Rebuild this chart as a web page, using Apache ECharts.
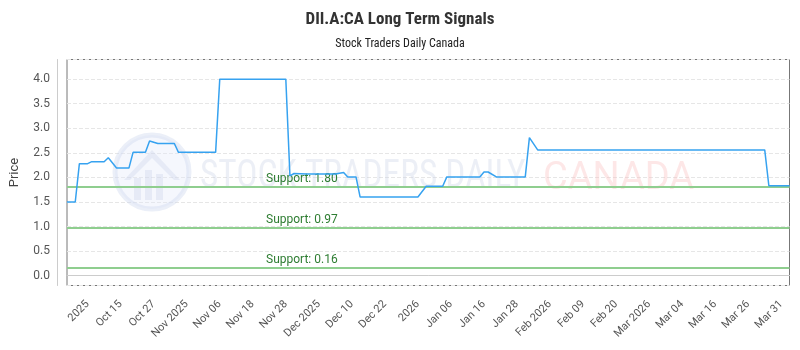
<!DOCTYPE html>
<html><head><meta charset="utf-8">
<script src="https://cdn.jsdelivr.net/npm/echarts@6/dist/echarts.min.js"></script>
<style>html,body{margin:0;padding:0;background:#fff}#c{width:800px;height:350px}</style>
</head><body><div id="c"></div>
<script>
// ---- data ----
const tickLabels = ['2025','Oct 15','Oct 27','Nov 2025','Nov 06','Nov 18','Nov 28','Dec 2025','Dec 10','Dec 22','2026','Jan 06','Jan 16','Jan 28','Feb 2026','Feb 09','Feb 20','Mar 2026','Mar 04','Mar 16','Mar 26','Mar 31'];
const firstLabelIndex = 5;
const labelStep = 8;
const pointCount = 176;
// breakpoints of the signal line: category index and price
const pointIndex = [0,2,3,5,6,9,10,12,15,16,19,20,22,26,27,36,37,53,54,55,58,65,67,68,70,71,85,87,91,92,100,101,102,104,111,112,114,169,170,175];
const pointValue = [1.5,1.5,2.28,2.28,2.32,2.32,2.40,2.19,2.19,2.51,2.51,2.74,2.69,2.69,2.51,2.51,4.0,4.0,2.03,2.08,2.07,2.07,2.10,2.01,2.01,1.6,1.6,1.82,1.82,2.01,2.01,2.11,2.11,2.01,2.01,2.81,2.56,2.56,1.83,1.83];
const supportLevels = [1.80, 0.97, 0.16];

// ---- build ----
const categories = [];
for (let i = 0; i < pointCount; i++) categories.push('p' + i);
const isLabel = i => i >= firstLabelIndex && (i - firstLabelIndex) % labelStep === 0;
const seriesData = pointIndex.map((d, k) => [d, pointValue[k]]);

const chart = echarts.init(document.getElementById('c'), null, {renderer: 'canvas'});
const FONT = 'Roboto, "Noto Sans", sans-serif';
const NARROW = '"Liberation Sans Narrow", "Roboto Condensed", Roboto, sans-serif';
chart.setOption({
  animation: false,
  backgroundColor: '#fff',
  title: [
    {text: 'DII.A:CA Long Term Signals', left: 'center', top: 6,
     textStyle: {fontSize: 17, fontWeight: 'bold', color: '#333', fontFamily: NARROW}},
    {text: 'Stock Traders Daily Canada', left: 'center', top: 33,
     textStyle: {fontSize: 12, fontWeight: 'normal', color: '#222', fontFamily: NARROW}}
  ],
  graphic: [
    {type: 'circle', shape: {cx: 152, cy: 172, r: 37}, style: {fill: 'rgba(225,232,248,0.35)', stroke: 'rgba(205,214,238,0.4)', lineWidth: 5}, z: 1, silent: true},
    {type: 'polygon', shape: {points: [[124,180],[152,150],[180,180],[174,180],[152,158],[130,180]]}, style: {fill: 'rgba(195,205,232,0.3)'}, z: 1, silent: true},
    {type: 'rect', shape: {x: 134, y: 178, width: 7, height: 22}, style: {fill: 'rgba(195,205,232,0.3)'}, z: 1, silent: true},
    {type: 'rect', shape: {x: 145, y: 170, width: 7, height: 30}, style: {fill: 'rgba(195,205,232,0.3)'}, z: 1, silent: true},
    {type: 'rect', shape: {x: 156, y: 174, width: 7, height: 26}, style: {fill: 'rgba(195,205,232,0.3)'}, z: 1, silent: true},
    {type: 'text', left: 200, top: 158, z: 1, silent: true, scaleX: 0.93,
     style: {text: 'STOCK TRADERS DAILY', font: '38px ' + NARROW, fill: 'rgba(200,208,228,0.35)'}},
    {type: 'text', left: 543, top: 160, z: 1, silent: true,
     style: {text: 'CANADA', font: '38px Roboto, sans-serif', fill: 'rgba(250,185,185,0.35)'}}
  ],
  grid: {left: 63, right: 10.5, top: 59.5, bottom: 64.5, show: true, borderColor: '#777', borderWidth: 1, backgroundColor: 'transparent'},
  xAxis: {
    type: 'category', data: categories, boundaryGap: false, offset: 10,
    axisLine: {show: true, lineStyle: {color: '#ccc'}},
    axisTick: {show: false},
    splitLine: {show: false},
    axisLabel: {
      rotate: 45, margin: 7, fontSize: 11, color: '#555', fontFamily: FONT,
      interval: (i) => isLabel(i),
      formatter: (v, i) => isLabel(i) ? tickLabels[(i - firstLabelIndex) / labelStep] : ''
    }
  },
  yAxis: {
    type: 'value', min: -0.2, max: 4.4, splitNumber: 9, minInterval: 0.5, maxInterval: 0.5, offset: 10,
    name: 'Price', nameLocation: 'middle', nameGap: 36, nameRotate: 90,
    nameTextStyle: {fontSize: 13, color: '#444', fontFamily: FONT},
    axisLine: {show: true, lineStyle: {color: '#ccc'}},
    axisTick: {show: false},
    splitLine: {show: true, lineStyle: {color: '#e6e6e6', type: 'dashed'}},
    axisLabel: {
      margin: 7, fontSize: 12, color: '#555', fontFamily: FONT,
      formatter: v => Math.abs(v * 2 - Math.round(v * 2)) < 1e-6 ? v.toFixed(1) : ''
    }
  },
  series: [{
    type: 'line', data: [], z: 2, silent: true,
    markLine: {
      silent: true, symbol: 'none', animation: false,
      lineStyle: {color: '#8fce8f', width: 2, type: 'solid'},
      label: {
        position: 'insideStartTop', distance: 2, padding: [0, 0, 0, 197],
        color: '#2e7d32', fontSize: 12, fontFamily: FONT,
        formatter: p => 'Support: ' + Number(p.value).toFixed(2)
      },
      data: supportLevels.map(v => ({yAxis: v}))
    }
  }, {
    type: 'line', data: seriesData, showSymbol: false, symbol: 'none', z: 5,
    lineStyle: {color: '#36a2f0', width: 1.5}
  }]
});
</script></body></html>
